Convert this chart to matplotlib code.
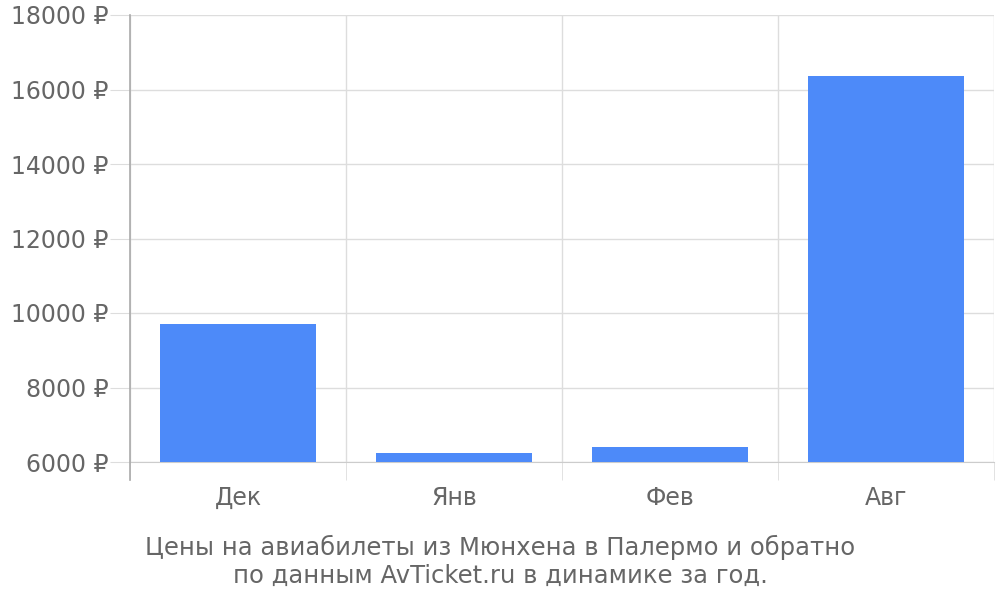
import numpy as np
import matplotlib
matplotlib.use("Agg")
import matplotlib.pyplot as plt
from matplotlib.lines import Line2D

months = ["Дек", "Янв", "Фев", "Авг"]
prices = [9700, 6230, 6400, 16350]
y_ticks = [6000, 8000, 10000, 12000, 14000, 16000, 18000]
caption = "Цены на авиабилеты из Мюнхена в Палермо и обратно\nпо данным AvTicket.ru в динамике за год."

bar_color = "#4d8af9"
text_color = "#666666"
grid_color = "#dddddd"

fig = plt.figure(figsize=(10, 6), dpi=100)
ax = fig.add_axes([0.13, 0.23, 0.864, 0.745])

x = np.arange(len(months))
ax.bar(x, np.array(prices) - 6000, bottom=6000, width=0.72, color=bar_color, zorder=3)

ax.set_xlim(-0.5, len(months) - 0.5)
ax.set_ylim(6000, 18000)

# y ticks and grid
ax.set_yticks(y_ticks)
ax.set_yticklabels([f"{v} ₽" for v in y_ticks])
ax.yaxis.grid(True, color=grid_color, linewidth=1, zorder=0)
ax.tick_params(axis="y", length=14.5, color=grid_color, pad=1, labelsize=17, labelcolor=text_color)

# x: labels at centres, ticks/grid at boundaries
ax.set_xticks(x)
ax.set_xticklabels(months)
ax.tick_params(axis="x", which="major", length=0, pad=17, labelsize=17, labelcolor=text_color)
ax.set_xticks(np.arange(len(months) + 1) - 0.5, minor=True)
ax.xaxis.grid(True, which="minor", color=grid_color, linewidth=1, zorder=0)
ax.tick_params(axis="x", which="minor", length=13, color=grid_color)

for s in ["top", "right", "left"]:
    ax.spines[s].set_visible(False)
ax.spines["bottom"].set_color("#cccccc")

# left axis line reaching below the plot
ax.add_line(Line2D([0, 0], [-0.04, 1], transform=ax.transAxes, color="#aaaaaa",
                   linewidth=1.2, clip_on=False, zorder=4))

fig.text(0.5, 0.064, caption, ha="center", va="center", fontsize=17.5,
         color=text_color, linespacing=1.2)

fig.savefig("out.png", dpi=100)
